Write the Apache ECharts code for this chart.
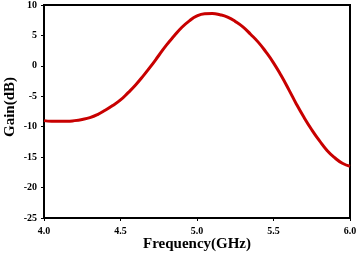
<!DOCTYPE html>
<html><head><meta charset="utf-8">
<script src="https://cdn.jsdelivr.net/npm/echarts@6/dist/echarts.min.js"></script>
<style>html,body{margin:0;padding:0;background:#fff}#c{width:357px;height:262px}</style>
</head><body><div id="c"></div>
<script>
const freq = [4.00,4.05,4.10,4.15,4.20,4.25,4.30,4.35,4.40,4.45,4.50,4.55,4.60,4.65,4.70,4.75,4.80,4.85,4.90,4.95,5.00,5.05,5.10,5.15,5.20,5.25,5.30,5.35,5.40,5.45,5.50,5.55,5.60,5.65,5.70,5.75,5.80,5.85,5.90,5.95,6.00];
const gain = [-9.0,-9.1,-9.1,-9.1,-9.0,-8.8,-8.5,-8.0,-7.3,-6.5,-5.6,-4.4,-3.1,-1.6,0.0,1.7,3.4,4.9,6.3,7.4,8.2,8.55,8.6,8.4,8.0,7.3,6.4,5.2,3.9,2.3,0.5,-1.6,-3.9,-6.3,-8.5,-10.5,-12.3,-13.9,-15.1,-16.0,-16.5];
const xTicks = ['4.0','4.5','5.0','5.5','6.0'];
const yTicks = [-25,-20,-15,-10,-5,0,5,10];
const xName = 'Frequency(GHz)';
const yName = 'Gain(dB)';
const font = 'Liberation Serif';
const chart = echarts.init(document.getElementById('c'));
chart.setOption({
  animation:false,
  grid:{left:44,right:7,top:5,bottom:44,outerBoundsMode:'none',containLabel:false,show:true,borderColor:'#000',borderWidth:2,backgroundColor:'#fff'},
  graphic:[
    {type:'text',x:197,y:244,style:{text:xName,font:'bold 15px "Liberation Serif"',fill:'#000',align:'center',verticalAlign:'middle'}},
    {type:'text',x:10,y:107,rotation:Math.PI/2,style:{text:yName,font:'bold 15px "Liberation Serif"',fill:'#000',align:'center',verticalAlign:'middle'}}
  ],
  xAxis:{type:'value',min:4,max:6,interval:0.5,
    axisLine:{onZero:false,lineStyle:{color:'#000',width:2}},
    axisTick:{show:true,inside:false,length:3,lineStyle:{color:'#000',width:1}},
    splitLine:{show:false},
    axisLabel:{fontFamily:font,fontWeight:'bold',fontSize:10,color:'#000',margin:8,
      formatter:v=>xTicks[Math.round((v-4)/0.5)]||''}},
  yAxis:{type:'value',min:-25,max:10,interval:5,
    axisLine:{onZero:false,lineStyle:{color:'#000',width:2}},
    axisTick:{show:true,inside:false,length:3,lineStyle:{color:'#000',width:1}},
    splitLine:{show:false},
    axisLabel:{fontFamily:font,fontWeight:'bold',fontSize:10,color:'#000',margin:7,
      formatter:v=>yTicks.includes(v)?String(v):''}},
  series:[{type:'line',data:freq.map((f,i)=>[f,gain[i]]),smooth:0.5,showSymbol:false,
    lineStyle:{color:'#c80000',width:3}}]
});
</script></body></html>
